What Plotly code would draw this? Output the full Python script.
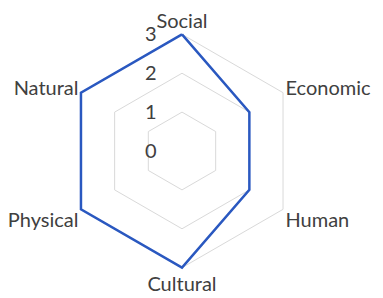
import plotly.graph_objects as go

categories = ["Social", "Economic", "Human", "Cultural", "Physical", "Natural"]
values = [3, 2, 2, 3, 3, 3]
radial_ticks = [0, 1, 2, 3]

fig = go.Figure()
fig.add_trace(go.Scatterpolar(
    r=values + values[:1],
    theta=categories + categories[:1],
    mode="lines",
    line=dict(color="#2a58c0", width=2.5),
    cliponaxis=False,
    showlegend=False,
))

fig.update_layout(
    width=383, height=298,
    margin=dict(l=55, r=90, t=23, b=35),
    paper_bgcolor="white",
    font=dict(family="Lato", size=20, color="#404040"),
    polar=dict(
        bgcolor="white",
        gridshape="linear",
        radialaxis=dict(
            range=[0, 3.06],
            tickvals=radial_ticks,
            showline=False,
            gridcolor="#d9d9d9",
            gridwidth=1,
            angle=90,
            side="counterclockwise",
            tickangle=90,
            ticks="outside",
            ticklen=18,
            tickcolor="rgba(0,0,0,0)",
            tickfont=dict(size=20, color="#404040"),
            layer="below traces",
        ),
        angularaxis=dict(
            rotation=90,
            direction="clockwise",
            showgrid=False,
            showline=False,
            ticks="",
            tickfont=dict(size=20, color="#404040"),
            layer="below traces",
        ),
    ),
)

fig.write_html("out.html")
